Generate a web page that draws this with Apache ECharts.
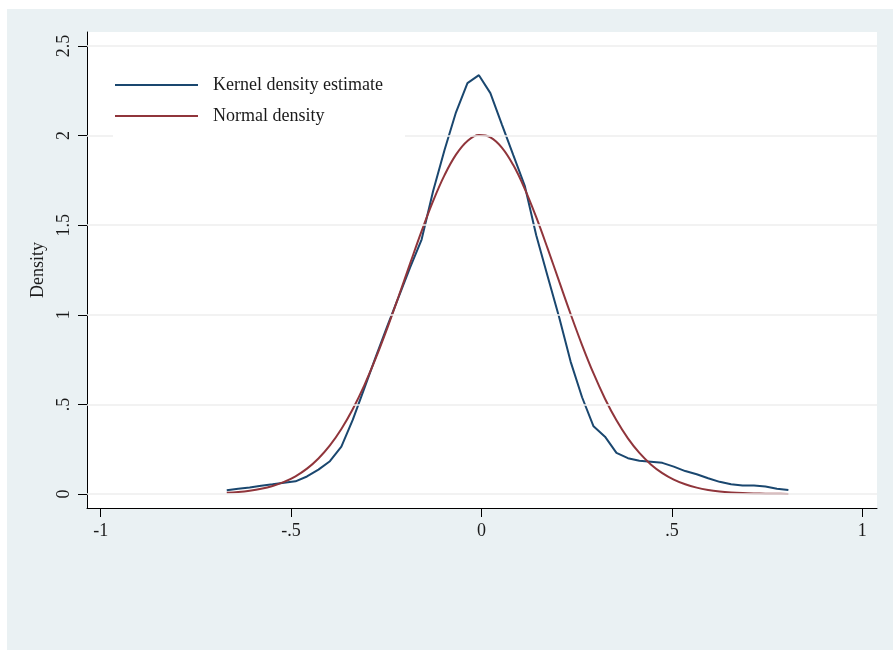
<!DOCTYPE html>
<html>
<head>
<meta charset="utf-8">
<script src="https://cdn.jsdelivr.net/npm/echarts@6/dist/echarts.min.js"></script>
<style>
html,body{margin:0;padding:0;background:#ffffff;}
#chart{width:893px;height:650px;}
</style>
</head>
<body>
<div id="chart"></div>
<script>
// Evaluation grid (x values)
var xValues = [-0.6690,-0.6389,-0.6088,-0.5787,-0.5486,-0.5185,-0.4884,-0.4583,-0.4282,-0.3981,
  -0.3680,-0.3379,-0.3078,-0.2777,-0.2476,-0.2175,-0.1874,-0.1573,-0.1272,-0.0971,
  -0.0670,-0.0369,-0.0068,0.0233,0.0534,0.0835,0.1136,0.1437,0.1738,0.2039,
  0.2340,0.2641,0.2942,0.3243,0.3544,0.3845,0.4146,0.4447,0.4748,0.5049,
  0.5350,0.5651,0.5952,0.6253,0.6554,0.6855,0.7156,0.7457,0.7758,0.8059];
// Kernel density estimate
var kdeValues = [0.021,0.029,0.037,0.046,0.054,0.063,0.071,0.098,0.136,0.183,
  0.265,0.415,0.590,0.765,0.935,1.100,1.265,1.420,1.690,1.920,
  2.130,2.293,2.337,2.237,2.063,1.891,1.720,1.444,1.214,0.986,
  0.739,0.540,0.378,0.320,0.230,0.200,0.186,0.180,0.174,0.153,
  0.128,0.110,0.088,0.068,0.055,0.048,0.048,0.042,0.030,0.022];
// Normal density
var normalValues = [0.0071,0.0116,0.0187,0.0293,0.0450,0.0675,0.0989,0.1417,0.1984,0.2715,
  0.3631,0.4747,0.6066,0.7576,0.9248,1.1034,1.2867,1.4668,1.6340,1.7793,
  1.8937,1.9699,2.0028,1.9903,1.9332,1.8353,1.7030,1.5445,1.3691,1.1862,
  1.0045,0.8314,0.6726,0.5318,0.4110,0.3105,0.2292,0.1654,0.1167,0.0804,
  0.0542,0.0357,0.0230,0.0145,0.0089,0.0053,0.0031,0.0018,0.0010,0.0006];
var seriesNames = ['Kernel density estimate', 'Normal density'];
var xTicks = [-1, -0.5, 0, 0.5, 1];
var xTickLabels = ['-1', '-.5', '0', '.5', '1'];
var yTicks = [0, 0.5, 1, 1.5, 2, 2.5];
var yTickLabels = ['0', '.5', '1', '1.5', '2', '2.5'];
var yTitle = 'Density';

var FONT = '"Liberation Serif", "DejaVu Serif", serif';
function pairs(xs, ys){ return xs.map(function(x,i){ return [x, ys[i]]; }); }
function fmt(ticks, labels){ return function(v){ for (var i=0;i<ticks.length;i++){ if (Math.abs(ticks[i]-v)<1e-9) return labels[i]; } return ''; }; }

var chart = echarts.init(document.getElementById('chart'), null, {renderer:'canvas'});
chart.setOption({
  backgroundColor: '#ffffff',
  animation: false,
  graphic: [{
    type: 'rect', z: -10, silent: true,
    shape: {x: 7, y: 9, width: 893 - 7, height: 650 - 9},
    style: {fill: '#eaf1f3'}
  }],
  grid: {
    left: 87, right: 16, top: 32, bottom: 142,
    show: true, backgroundColor: '#ffffff', borderWidth: 0
  },
  legend: {
    data: seriesNames,
    orient: 'vertical',
    left: 113, top: 52,
    itemWidth: 83, itemHeight: 14, itemGap: 13,
    padding: [24, 22, 15, 2],
    backgroundColor: '#ffffff',
    icon: 'path://M0,0 L100,0 L100,2.4 L0,2.4 Z',
    textStyle: {fontFamily: FONT, fontSize: 18, color: '#1a1a1a', padding: [0,0,0,10]},
    z: 20
  },
  xAxis: {
    type: 'value', min: -1.036, max: 1.0386,
    axisLine: {onZero: false, lineStyle: {color: '#000', width: 1}},
    axisTick: {show: true, length: 9, customValues: xTicks, lineStyle: {color: '#000'}},
    axisLabel: {customValues: xTicks, formatter: fmt(xTicks, xTickLabels), fontFamily: FONT, fontSize: 18, color: '#1a1a1a', margin: 14},
    splitLine: {show: false}
  },
  yAxis: {
    type: 'value', min: -0.078, max: 2.578,
    name: yTitle, nameLocation: 'middle', nameRotate: 90, nameGap: 31,
    nameTextStyle: {fontFamily: FONT, fontSize: 18, color: '#1a1a1a'},
    axisLine: {show: true, onZero: false, lineStyle: {color: '#000', width: 1}},
    axisTick: {show: true, length: 9, customValues: yTicks, lineStyle: {color: '#000'}},
    axisLabel: {customValues: yTicks, formatter: fmt(yTicks, yTickLabels), rotate: 90, fontFamily: FONT, fontSize: 18, color: '#1a1a1a', margin: 14},
    splitLine: {show: false}
  },
  series: [
    {
      name: '__grid', type: 'line', data: [], z: 1, silent: true,
      markLine: {
        silent: true, symbol: 'none', label: {show: false},
        lineStyle: {color: '#eeeeee', type: 'solid', width: 1.5},
        data: yTicks.map(function(v){ return {yAxis: v}; })
      }
    },
    {
      name: seriesNames[0], type: 'line', z: 3,
      data: pairs(xValues, kdeValues),
      symbol: 'none', smooth: false,
      itemStyle: {color: '#1a476f'},
      lineStyle: {color: '#1a476f', width: 2}
    },
    {
      name: seriesNames[1], type: 'line', z: 3,
      data: pairs(xValues, normalValues),
      symbol: 'none', smooth: 0.4,
      itemStyle: {color: '#90353b'},
      lineStyle: {color: '#90353b', width: 2}
    }
  ]
});
</script>
</body>
</html>
